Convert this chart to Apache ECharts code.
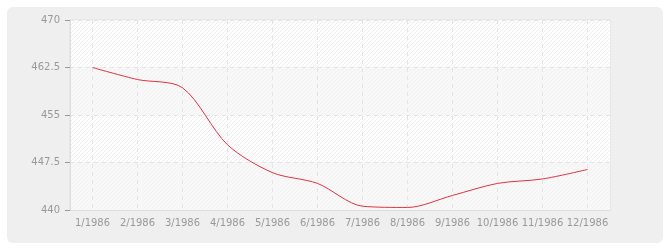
<!DOCTYPE html>
<html><head><meta charset="utf-8">
<script src="https://cdn.jsdelivr.net/npm/echarts@6/dist/echarts.min.js"></script>
<style>html,body{margin:0;padding:0;background:#fff;}#c{width:670px;height:250px;}</style>
</head><body><div id="c"></div>
<script>
const categories = ['1/1986','2/1986','3/1986','4/1986','5/1986','6/1986','7/1986','8/1986','9/1986','10/1986','11/1986','12/1986'];
const values = [462.5, 460.6, 459.3, 450.3, 445.9, 444.2, 440.6, 440.4, 442.3, 444.2, 444.9, 446.4];
const yMin = 440, yMax = 470, yStep = 7.5;

function hatch(bg, line) {
  const c = document.createElement('canvas');
  c.width = 4; c.height = 4;
  const g = c.getContext('2d');
  g.fillStyle = bg; g.fillRect(0, 0, 4, 4);
  g.strokeStyle = line; g.lineWidth = 1;
  g.beginPath(); g.moveTo(-1, 5); g.lineTo(5, -1); g.stroke();
  g.beginPath(); g.moveTo(-1, 1); g.lineTo(1, -1); g.stroke();
  g.beginPath(); g.moveTo(3, 5); g.lineTo(5, 3); g.stroke();
  return { image: c, repeat: 'repeat' };
}

const chart = echarts.init(document.getElementById('c'), null, { renderer: 'canvas' });
chart.setOption({
  backgroundColor: '#fff',
  animation: false,
  graphic: [{
    type: 'rect', z: -10, silent: true,
    shape: { x: 7, y: 7, width: 656, height: 236, r: 6 },
    style: { fill: '#efefef' }
  }],
  grid: { left: 70, right: 60, top: 20, bottom: 40, show: true, borderColor: '#e0e0e0', borderWidth: 1, backgroundColor: 'transparent' },
  xAxis: {
    type: 'category', data: categories, boundaryGap: true,
    axisLine: { lineStyle: { color: '#dddddd' } },
    axisTick: { alignWithLabel: true, interval: 0, length: 5, lineStyle: { color: '#999' } },
    axisLabel: { interval: 0, color: '#999', fontFamily: 'DejaVu Sans', fontSize: 10, margin: 8 },
    splitLine: { show: true, interval: 0, alignWithLabel: true, lineStyle: { color: '#e4e4e4', type: [4, 4] } }
  },
  yAxis: {
    type: 'value', min: yMin, max: yMax, interval: yStep,
    axisLine: { show: true, lineStyle: { color: '#dddddd' } },
    axisTick: { show: true, length: 5, lineStyle: { color: '#999' } },
    axisLabel: { color: '#999', fontFamily: 'DejaVu Sans', fontSize: 10, margin: 10 },
    splitLine: { show: true, lineStyle: { color: '#e4e4e4', type: [4, 4] } },
    splitArea: { show: true, areaStyle: { color: [hatch('#f8f8f8', '#f2f2f2'), hatch('#ffffff', '#eeeeee')] } }
  },
  series: [{
    type: 'line', data: values, smooth: 0.3, showSymbol: false,
    lineStyle: { color: '#dd3344', width: 1 }
  }]
});
</script></body></html>
